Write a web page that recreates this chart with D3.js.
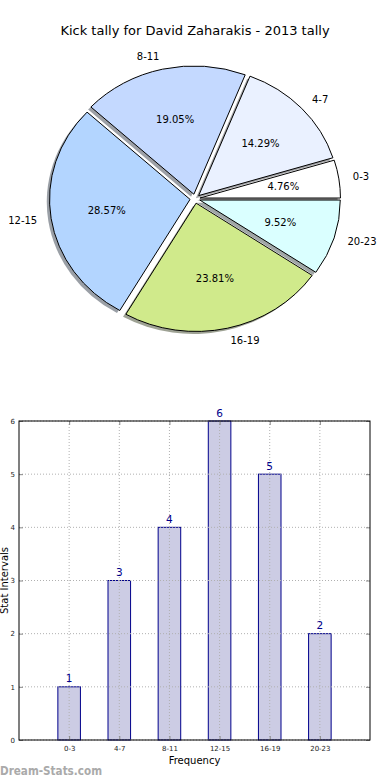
<!DOCTYPE html>
<html><head><meta charset="utf-8">
<script src="https://cdn.jsdelivr.net/npm/d3@7/dist/d3.min.js"></script>
<style>
body{margin:0;background:#fff;}
svg{display:block;font-family:"DejaVu Sans",sans-serif;}
</style></head>
<body>
<svg id="c" width="390" height="780"></svg>
<script>
const categories = ["0-3","4-7","8-11","12-15","16-19","20-23"];
const counts = [1,3,4,6,5,2];
const pieColors = ["#ffffff","#eaf1ff","#c4d9ff","#b3d5ff","#d0ea8b","#daffff"];
const yTicks = [0,1,2,3,4,5,6];
const title = "Kick tally for David Zaharakis - 2013 tally";

const svg = d3.select("#c");

// ---------- PIE ----------
const cx = 195, cy = 198.7, rx = 140.5, ry = 128.3, k = ry / rx, expl = 5;
svg.append("text").attr("x",195).attr("y",30).attr("text-anchor","middle")
  .attr("dominant-baseline","central").style("font-size","13px").attr("fill","#000").text(title);

const total = d3.sum(counts);
const pie = d3.pie().sort(null).value(d => d).startAngle(Math.PI/2).endAngle(Math.PI/2 - 2*Math.PI);
const arcs = pie(counts);
const arc = d3.arc().innerRadius(0).outerRadius(rx);

function drawPie(g, isShadow){
  arcs.forEach((a,i)=>{
    const mid = (a.startAngle + a.endAngle)/2;
    const dx = Math.sin(mid)*expl, dy = -Math.cos(mid)*expl;
    const c = d3.color(pieColors[i]);
    const p = g.append("path").attr("d", arc(a)).attr("transform",`translate(${dx},${dy})`);
    if(isShadow){
      p.attr("fill", d3.rgb(c.r*0.3,c.g*0.3,c.b*0.3)).attr("fill-opacity",0.5).attr("stroke","none");
    } else {
      p.attr("fill", pieColors[i]).attr("stroke","#000").attr("stroke-width",1)
       .attr("vector-effect","non-scaling-stroke");
    }
  });
}
drawPie(svg.append("g").attr("transform",`translate(${cx-2.8},${cy+2.6}) scale(1,${k})`), true);
drawPie(svg.append("g").attr("transform",`translate(${cx},${cy}) scale(1,${k})`), false);

arcs.forEach((a,i)=>{
  const mid = (a.startAngle + a.endAngle)/2;
  const s = Math.sin(mid), c = Math.cos(mid);
  const lr = expl + 1.1*rx, pr = expl + 0.6*rx;
  svg.append("text").attr("x", cx + lr*s).attr("y", cy - lr*c*k)
    .attr("text-anchor", s < 0 ? "end" : "start").attr("dominant-baseline","central")
    .style("font-size","10px").attr("fill","#000").text(categories[i]);
  svg.append("text").attr("x", cx + pr*s).attr("y", cy - pr*c*k)
    .attr("text-anchor","middle").attr("dominant-baseline","central")
    .style("font-size","10px").attr("fill","#000")
    .text((counts[i]/total*100).toFixed(2) + "%");
});

// ---------- BAR ----------
const L = 19, R = 370, T = 421, B = 740;
const x = d3.scaleLinear().domain([-1,6]).range([L,R]);
const y = d3.scaleLinear().domain([0,6]).range([B,T]);
const bw = 0.45;

svg.selectAll("rect.bar").data(counts).join("rect").attr("class","bar")
  .attr("x",(d,i)=>x(i-bw/2)).attr("width",x(bw)-x(0))
  .attr("y",d=>y(d)).attr("height",d=>y(0)-y(d))
  .attr("fill","#cccce4").attr("stroke","#00008b").attr("stroke-width",1);

// grid
const grid = svg.append("g").attr("stroke","#b0b0b0").attr("stroke-width",1).attr("stroke-dasharray","1,2");
categories.forEach((c,i)=>{
  grid.append("line").attr("x1",x(i)).attr("x2",x(i)).attr("y1",T).attr("y2",B);
});
yTicks.forEach(t=>{
  grid.append("line").attr("x1",L).attr("x2",R).attr("y1",y(t)).attr("y2",y(t));
});

// axes with inward ticks
const axB = svg.append("g").attr("transform",`translate(0,${B})`)
  .call(d3.axisBottom(x).tickValues(d3.range(categories.length)).tickFormat(i=>categories[i]).tickSizeInner(-4).tickSizeOuter(0).tickPadding(6));
const axT = svg.append("g").attr("transform",`translate(0,${T})`)
  .call(d3.axisTop(x).tickValues(d3.range(categories.length)).tickFormat("").tickSizeInner(-4).tickSizeOuter(0));
const axL = svg.append("g").attr("transform",`translate(${L},0)`)
  .call(d3.axisLeft(y).tickValues(yTicks).tickFormat(d3.format("d")).tickSizeInner(-4).tickSizeOuter(0).tickPadding(4));
const axR = svg.append("g").attr("transform",`translate(${R},0)`)
  .call(d3.axisRight(y).tickValues(yTicks).tickFormat("").tickSizeInner(-4).tickSizeOuter(0));
[axB,axT,axL,axR].forEach(a=>{
  a.select(".domain").remove();
  a.selectAll(".tick line").attr("stroke","#888");
  a.selectAll(".tick text").style("font-size","7px").style("font-family","DejaVu Sans").attr("fill","#222");
});
svg.append("rect").attr("x",L).attr("y",T).attr("width",R-L).attr("height",B-T)
  .attr("fill","none").attr("stroke","#000").attr("stroke-width",1);

// value labels
svg.selectAll("text.val").data(counts).join("text").attr("class","val")
  .attr("x",(d,i)=>x(i)).attr("y",d=>y(d)-4.5).attr("text-anchor","middle")
  .style("font-size","10.5px").attr("fill","#00008b").text(d=>d);

svg.append("text").attr("x",(L+R)/2).attr("y",760).attr("text-anchor","middle")
  .attr("dominant-baseline","central").style("font-size","10px").attr("fill","#000").text("Frequency");
svg.append("text").attr("transform",`translate(4,${(T+B)/2}) rotate(-90)`).attr("text-anchor","middle")
  .attr("dominant-baseline","central").style("font-size","10px").attr("fill","#000").text("Stat Intervals");

svg.append("text").attr("x",0).attr("y",771).attr("dominant-baseline","central")
  .attr("textLength",102).attr("lengthAdjust","spacingAndGlyphs")
  .style("font-size","11.5px").style("font-weight","bold").attr("fill","#aaaaaa").text("Dream-Stats.com");
</script>
</body></html>
